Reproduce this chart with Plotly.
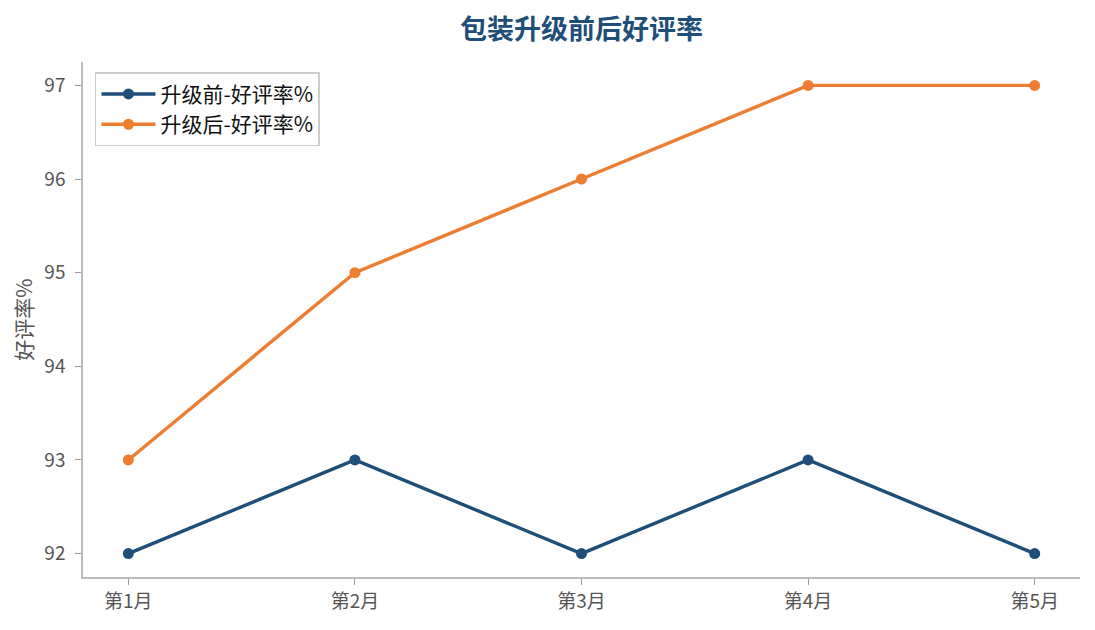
import plotly.graph_objects as go

months = ["第1月", "第2月", "第3月", "第4月", "第5月"]
before = [92, 93, 92, 93, 92]
after = [93, 95, 96, 97, 97]

FONT = "Noto Sans CJK SC, Microsoft YaHei, sans-serif"

fig = go.Figure()
fig.add_trace(go.Scatter(x=list(range(len(months))), y=before, mode="lines+markers",
                         name="升级前-好评率%",
                         line=dict(color="#1f4e79", width=3.4),
                         marker=dict(size=11, color="#1f4e79")))
fig.add_trace(go.Scatter(x=list(range(len(months))), y=after, mode="lines+markers",
                         name="升级后-好评率%",
                         line=dict(color="#ed7d31", width=3.4),
                         marker=dict(size=11, color="#ed7d31")))

# page body has an 8px margin, so the figure is offset by 8px
fig.update_layout(
    width=1087, height=622,
    paper_bgcolor="white", plot_bgcolor="white",
    margin=dict(l=75, r=15, t=54, b=53),
    font=dict(family=FONT, size=19, color="#555555"),
    title=dict(text="<b>包装升级前后好评率</b>", xref="paper", x=0.5, xanchor="center",
               y=0.965, yanchor="middle",
               font=dict(family=FONT, size=27, color="#1f4e79")),
    legend=dict(x=0.012, y=0.98, xanchor="left", yanchor="top",
                bgcolor="white", bordercolor="#cccccc", borderwidth=1.5,
                font=dict(size=21, color="#111111"), itemwidth=54),
    showlegend=True,
)
fig.update_xaxes(range=[-0.2, 4.2], tickmode="array",
                 tickvals=list(range(len(months))), ticktext=months,
                 showgrid=False, zeroline=False, showline=True,
                 linecolor="#bbbbbb", linewidth=1.5,
                 ticks="outside", ticklen=6, tickcolor="#999999")
fig.update_yaxes(range=[91.75, 97.25], dtick=1, ticklabelstandoff=6,
                 title=dict(text="好评率%", standoff=10, font=dict(size=21, color="#555555")),
                 showgrid=False, zeroline=False, showline=True,
                 linecolor="#bbbbbb", linewidth=1.5,
                 ticks="outside", ticklen=6, tickcolor="#999999")

fig.write_html("out.html")
